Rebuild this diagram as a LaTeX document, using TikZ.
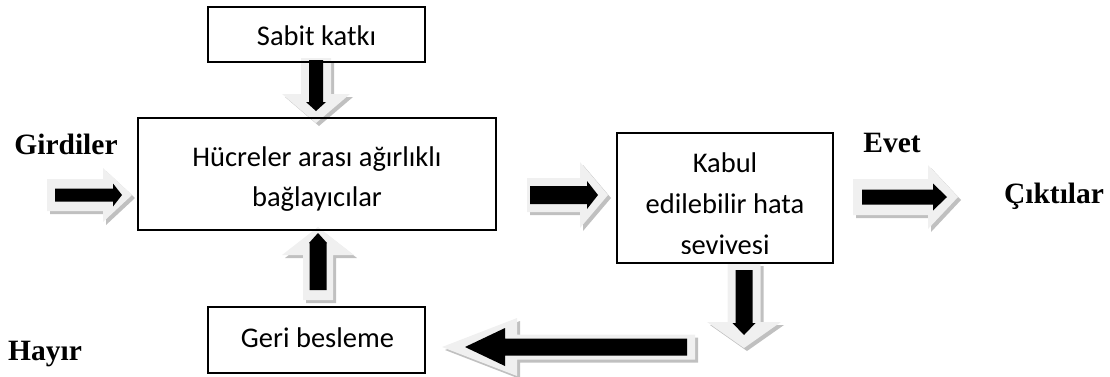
\documentclass[tikz,border=0pt]{standalone}
\usepackage{fontspec}
\setmainfont{Liberation Serif}
\newfontfamily\boxfont{Carlito}
\usetikzlibrary{calc}

\definecolor{arrowlight}{HTML}{F0F0F0}
\definecolor{arrowshade}{HTML}{C0C0C0}

% dimensions of the double block arrows (in pt = px)
\pgfkeys{/dblarrow/.is family, /dblarrow/.cd,
  osh/.initial=16, ohh/.initial=33, ohl/.initial=29,
  ish/.initial=7, ihh/.initial=12, ihl/.initial=10,
  tail/.initial=8, tip/.initial=10}

% block arrow polygon: from, to, shaft half width, head half width, head length, options
\newcommand\arrowpoly[6]{%
  \coordinate (hb) at ($(#2)!#5pt!(#1)$);
  \path[#6] ($(#1)!#3pt!90:(#2)$) -- ($(hb)!#3pt!-90:(#1)$)
    -- ($(hb)!#4pt!-90:(#1)$) -- (#2) -- ($(hb)!#4pt!90:(#1)$)
    -- ($(hb)!#3pt!90:(#1)$) -- ($(#1)!#3pt!-90:(#2)$) -- cycle;
}

% light block arrow with drop shadow and a black arrow inside
\newcommand\dblarrow[3][]{%
  \begingroup
  \pgfkeys{/dblarrow/.cd,#1}%
  \edef\osh{\pgfkeysvalueof{/dblarrow/osh}}%
  \edef\ohh{\pgfkeysvalueof{/dblarrow/ohh}}%
  \edef\ohl{\pgfkeysvalueof{/dblarrow/ohl}}%
  \edef\ish{\pgfkeysvalueof{/dblarrow/ish}}%
  \edef\ihh{\pgfkeysvalueof{/dblarrow/ihh}}%
  \edef\ihl{\pgfkeysvalueof{/dblarrow/ihl}}%
  \edef\tailin{\pgfkeysvalueof{/dblarrow/tail}}%
  \edef\tipin{\pgfkeysvalueof{/dblarrow/tip}}%
  \coordinate (ia) at ($(#2)!\tailin pt!(#3)$);
  \coordinate (ib) at ($(#3)!\tipin pt!(#2)$);
  \begin{scope}[transform canvas={shift={(3,3)}}]
    \arrowpoly{#2}{#3}{\osh}{\ohh}{\ohl}{fill=arrowshade}
  \end{scope}
  \arrowpoly{#2}{#3}{\osh}{\ohh}{\ohl}{fill=arrowlight}
  \arrowpoly{ia}{ib}{\ish}{\ihh}{\ihl}{fill=black}
  \endgroup}

\tikzset{
  box/.style={draw=black, line width=1.3pt, rectangle, inner sep=0pt, outer sep=0pt},
  boxtext/.style={font=\boxfont\fontsize{28.5}{34}\selectfont, anchor=base, inner sep=0pt},
  label/.style={font=\bfseries\fontsize{29.5}{34}\selectfont, anchor=base, inner sep=0pt}
}

\begin{document}
\begin{tikzpicture}[x=1pt, y=-1pt]
\useasboundingbox (0,0) rectangle (1110,376);

% arrow end points
\coordinate (inS)  at (47,195);   \coordinate (inT)  at (132,195);
\coordinate (midS) at (527,195);  \coordinate (midT) at (608,195);
\coordinate (outS) at (853,197);  \coordinate (outT) at (958,197);
\coordinate (sabS) at (316,58);   \coordinate (sabT) at (316,123);
\coordinate (upS)  at (318,300);  \coordinate (upT)  at (318,227);
\coordinate (dnS)  at (744,263);  \coordinate (dnT)  at (744,348);
\coordinate (bkS)  at (695,347);  \coordinate (bkT)  at (442,347);

% arrows
\dblarrow[osh=16, ohh=27, ohl=29, tail=8, tip=10, ish=6.5, ihh=11.5, ihl=9]{inS}{inT}
\dblarrow[osh=17, ohh=33, ohl=28, tail=3, tip=10, ish=9, ihh=14, ihl=11]{midS}{midT}
\dblarrow[osh=18, ohh=32, ohl=30, tail=9, tip=11, ish=7.5, ihh=13.5, ihl=14]{outS}{outT}
\dblarrow[osh=15, ohh=34, ohl=29, tail=2, tip=12, ish=7, ihh=10, ihl=9]{sabS}{sabT}
\dblarrow[osh=15, ohh=36, ohl=28, tail=10, tip=6, ish=8.5, ihh=9, ihl=10]{upS}{upT}
\dblarrow[osh=16.5, ohh=37, ohl=26, tail=7, tip=13, ish=8.5, ihh=11.5, ihl=12]{dnS}{dnT}
\dblarrow[osh=12.5, ohh=29, ohl=75, tail=8, tip=23, ish=8.5, ihh=19, ihl=40]{bkS}{bkT}

% boxes
\node[box, minimum width=217, minimum height=55]  (sabit) at (316.5,34.5) {};
\node[box, minimum width=358, minimum height=112] (hucre) at (317,174) {};
\node[box, minimum width=216, minimum height=130] (kabul) at (725,198) {};
\node[box, minimum width=217, minimum height=66]  (geri)  at (316.5,340) {};

% box texts
\node[boxtext] (tsabit) at (316.5,45) {Sabit katkı};
\node[boxtext] (thuc1) at (317,166) {Hücreler arası ağırlıklı};
\node[boxtext] (thuc2) at (317,206) {bağlayıcılar};
\node[boxtext] (tkab1) at (725,172) {Kabul};
\node[boxtext] (tkab2) at (725,213) {edilebilir hata};
% the last line overflows the box and is cut at its baseline
\begin{scope}
  \clip (kabul.north west) rectangle ($(kabul.south east)+(0,-10)$);
  \node[boxtext] (tkab3) at (725,254) {seviyesi};
\end{scope}
\node[boxtext] (tgeri) at (317.5,347) {Geri besleme};

% outside labels
\node[label] (girdi) at (66,154) {Girdiler};
\node[label] (evet)  at (892,152) {Evet};
\node[label] (cikti) at (1054,203) {Çıktılar};
\node[label] (hayir) at (45,360) {Hayır};
\end{tikzpicture}
\end{document}
